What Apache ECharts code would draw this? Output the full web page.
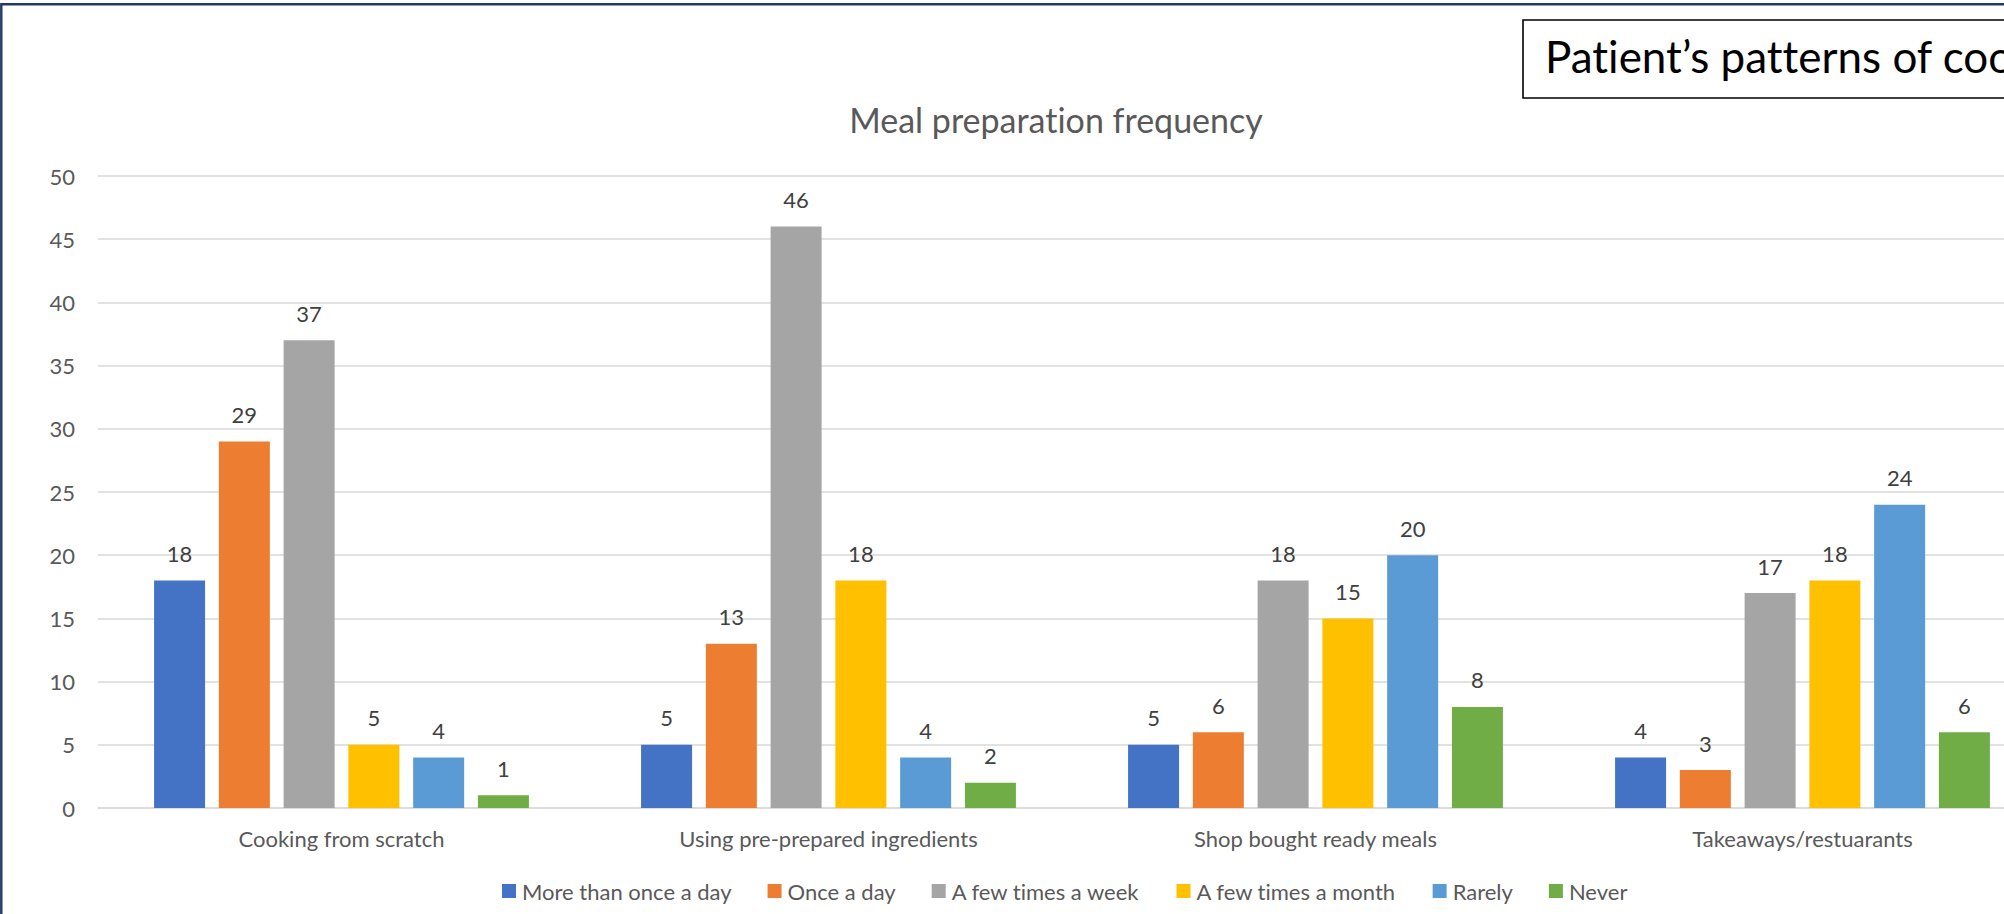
<!DOCTYPE html>
<html>
<head>
<meta charset="utf-8">
<title>Meal preparation frequency</title>
<script src="https://cdn.jsdelivr.net/npm/echarts/dist/echarts.min.js"></script>
<style>
  html, body { margin: 0; padding: 0; background: #fff; overflow: hidden; }
  #mainChart { width: 2112px; height: 914px; }
  /* Lato joins "ti" by default, Calibri in the original does not */
  #mainChart text { font-variant-ligatures: none; font-feature-settings: "liga" 0, "dlig" 0, "clig" 0; }
</style>
</head>
<body>
<div id="mainChart"></div>
<script>
// categories on the x axis
var categories = ['Cooking from scratch', 'Using pre-prepared ingredients', 'Shop bought ready meals', 'Takeaways/restuarants'];

// one array per frequency answer (same order as categories)
var moreThanOnceADay = [18, 5, 5, 4];
var onceADay = [29, 13, 6, 3];
var fewTimesAWeek = [37, 46, 18, 17];
var fewTimesAMonth = [5, 18, 15, 18];
var rarely = [4, 4, 20, 24];
var never = [1, 2, 8, 6];

var seriesNames = ['More than once a day', 'Once a day', 'A few times a week', 'A few times a month', 'Rarely', 'Never'];
var seriesData = [moreThanOnceADay, onceADay, fewTimesAWeek, fewTimesAMonth, rarely, never];
var colors = ['#4472C4', '#ED7D31', '#A5A5A5', '#FFC000', '#5B9BD5', '#70AD47'];

var yTicks = [0, 5, 10, 15, 20, 25, 30, 35, 40, 45, 50];

var fontFamily = 'Lato, "Noto Sans", sans-serif';

function buildSeries() {
  var list = [];
  for (var i = 0; i < seriesNames.length; i++) {
    list.push({
      name: seriesNames[i],
      type: 'bar',
      data: seriesData[i],
      barWidth: 51,
      barGap: '27%',
      itemStyle: { color: colors[i] },
      label: {
        show: true,
        position: 'top',
        distance: 16,
        color: '#404040',
        fontFamily: fontFamily,
        fontSize: 22
      }
    });
  }
  return list;
}

var option = {
  animation: false,
  color: colors,
  title: {
    text: 'Meal preparation frequency',
    left: 'center',
    top: 97,
    textStyle: {
      color: '#595959',
      fontFamily: fontFamily,
      fontWeight: 'normal',
      fontSize: 34
    }
  },
  legend: {
    data: seriesNames,
    left: 497,
    top: 875,
    itemWidth: 14,
    itemHeight: 14,
    itemGap: 36,
    icon: 'rect',
    textStyle: {
      color: '#595959',
      fontFamily: fontFamily,
      fontSize: 22,
      padding: [0, 0, 0, 1]
    }
  },
  grid: {
    left: 98,
    right: 66,
    top: 176,
    bottom: 106,
    containLabel: false
  },
  xAxis: {
    type: 'category',
    data: categories,
    axisTick: { show: false },
    axisLine: { lineStyle: { color: '#D9D9D9', width: 1.5 } },
    axisLabel: {
      margin: 19,
      color: '#595959',
      fontFamily: fontFamily,
      fontSize: 22
    }
  },
  yAxis: {
    type: 'value',
    min: yTicks[0],
    max: yTicks[yTicks.length - 1],
    interval: 5,
    axisLine: { show: false },
    axisTick: { show: false },
    splitLine: { lineStyle: { color: '#D9D9D9', width: 1.5 } },
    axisLabel: {
      margin: 23,
      color: '#595959',
      fontFamily: fontFamily,
      fontSize: 22
    }
  },
  graphic: [
    {
      type: 'rect',
      shape: { x: 1.3, y: 4.3, width: 2300, height: 1200 },
      style: { fill: null, stroke: '#1F3864', lineWidth: 2.4 },
      z: 100
    },
    {
      type: 'rect',
      shape: { x: 1523, y: 20, width: 800, height: 78 },
      style: { fill: '#fff', stroke: '#000', lineWidth: 1.6 },
      z: 100
    },
    {
      type: 'text',
      x: 1545,
      y: 56,
      style: {
        text: 'Patient\u2019s patterns of cooking',
        fill: '#000',
        fontFamily: fontFamily,
        fontSize: 44,
        textVerticalAlign: 'middle',
        verticalAlign: 'middle'
      },
      z: 101
    }
  ],
  series: buildSeries()
};

var myChart = echarts.init(document.getElementById('mainChart'), null, { renderer: 'svg' });
myChart.setOption(option);
window.onresize = function () {
  if (myChart) {
    myChart.resize();
  }
};
</script>
</body>
</html>
